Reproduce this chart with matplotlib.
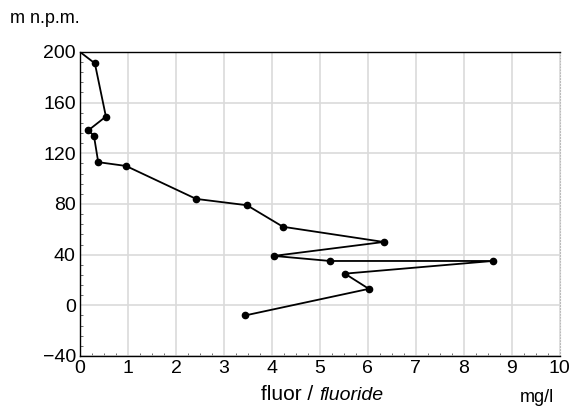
import matplotlib.pyplot as plt
from matplotlib.ticker import MultipleLocator

plt.rcParams["font.family"] = ["Liberation Sans", "DejaVu Sans"]

# fluoride concentration (mg/l) vs elevation (m n.p.m.)
fluor = [0.0, 0.31, 0.54, 0.17, 0.29, 0.38, 0.96, 2.42, 3.48, 4.23, 6.33,
         4.04, 5.21, 8.60, 5.52, 6.02, 3.44]
elev = [200, 191, 149, 138, 134, 113, 110, 84, 79, 62, 50,
        39, 35, 35, 25, 13, -8]

fig = plt.figure(figsize=(5.73, 4.09), dpi=100)
ax = fig.add_axes([0.1396, 0.1296, 0.8374, 0.7434])

ax.plot(fluor[1:], elev[1:], color='black', lw=1.3, marker='o', ms=4.5)
ax.plot(fluor[:2], elev[:2], color='black', lw=1.3)

ax.set_xlim(0, 10)
ax.set_ylim(-40, 200)
ax.set_xticks(range(0, 11))
ax.set_yticks(range(-40, 201, 40))
ax.set_yticklabels(['\u221240', '0', '40', '80', '120', '160', '200'])
ax.yaxis.set_minor_locator(MultipleLocator(8))
ax.xaxis.set_minor_locator(MultipleLocator(0.25))
ax.tick_params(which='major', length=0, labelsize=14, pad=3)
ax.tick_params(which='minor', direction='in', length=2, width=0.6, color='#555555')
ax.grid(color='#dadada', lw=1.2)
ax.set_axisbelow(True)

for s in ['left', 'bottom', 'top']:
    ax.spines[s].set_linewidth(1.0)
ax.spines['right'].set_color('#bbbbbb')
ax.spines['right'].set_linestyle(':')

fig.text(0.017, 0.955, 'm n.p.m.', fontsize=13, va='center')
fig.text(0.557, 0.012, 'fluor / ', fontsize=15, ha='right', va='bottom')
fig.text(0.557, 0.012, 'fluoride', fontsize=14, style='italic', ha='left', va='bottom')
fig.text(0.937, 0.008, 'mg/l', fontsize=13, ha='center', va='bottom')

fig.savefig('out.png', dpi=100)
